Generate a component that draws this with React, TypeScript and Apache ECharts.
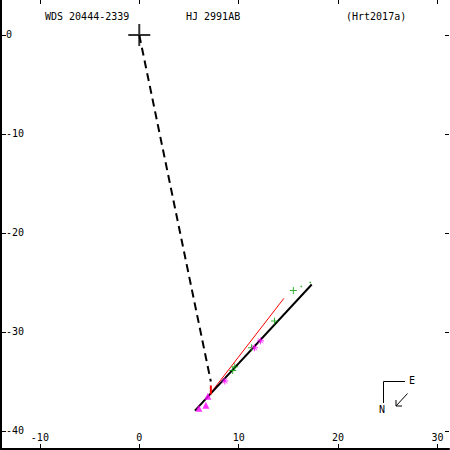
import React, { useEffect, useRef } from "react";
import * as echarts from "echarts";

const xTicks = [-10, 0, 10, 20, 30];
const yTicks = [0, -10, -20, -30, -40];
const primary = [[0, 0]];
const periastronLine = [[0, 0], [7.2, -35.0]];
const orbitLine = [[5.6, -37.95], [17.35, -25.2]];
const redLine = [[7.0, -36.4], [14.55, -26.6]];
const ocSegment = [[7.2, -35.4], [7.2, -36.3]];
const greenPlus = [[15.5, -25.8], [13.6, -28.9], [11.3, -31.6], [9.6, -33.5], [9.4, -33.9]];
const greenDots = [[16.3, -25.4], [17.2, -25.0]];
const magentaStars = [[12.2, -30.9], [11.6, -31.6], [8.6, -34.95]];
const magentaTriangles = [[6.9, -36.5], [6.0, -37.7], [6.7, -37.4]];
const titleLeft = "WDS 20444-2339";
const titleMid = "HJ 2991AB";
const titleRight = "(Hrt2017a)";

const FONT = '"DejaVu Sans Mono", monospace';

export default function App() {
  const ref = useRef<HTMLDivElement>(null);
  useEffect(() => {
    if (!ref.current) return;
    const chart = echarts.init(ref.current, null, { renderer: "svg" });
    const axisCommon = {
      type: "value",
      splitLine: { show: false },
    };
    const option: any = {
      animation: false,
      backgroundColor: "#fff",
      grid: { left: 1, right: 1, top: 0, bottom: 1, containLabel: false, outerBoundsMode: "none" },
      xAxis: [
        {
          ...axisCommon,
          min: -13.91,
          max: 31.16,
          position: "bottom",
          axisLine: { show: true, onZero: false, lineStyle: { color: "#000", width: 2 } },
          axisTick: { show: true, inside: true, length: 5, customValues: xTicks, lineStyle: { color: "#000", width: 1 } },
          axisLabel: { show: true, inside: true, margin: 7, customValues: xTicks, color: "#000", fontFamily: FONT, fontSize: 10 },
        },
        {
          ...axisCommon,
          min: -13.91,
          max: 31.16,
          position: "top",
          axisLine: { show: false, onZero: false },
          axisTick: { show: true, inside: true, length: 4, customValues: xTicks, lineStyle: { color: "#000", width: 1 } },
          axisLabel: { show: false },
        },
      ],
      yAxis: [
        {
          ...axisCommon,
          min: -41.82,
          max: 3.535,
          position: "left",
          axisLine: { show: true, onZero: false, lineStyle: { color: "#000", width: 2 } },
          axisTick: { show: true, inside: true, length: 5, customValues: yTicks, lineStyle: { color: "#000", width: 1 } },
          axisLabel: { show: true, inside: true, margin: 5, customValues: yTicks, color: "#000", fontFamily: FONT, fontSize: 10 },
        },
        {
          ...axisCommon,
          min: -41.82,
          max: 3.535,
          position: "right",
          axisLine: { show: false, onZero: false },
          axisTick: { show: true, inside: true, length: 4, customValues: yTicks, lineStyle: { color: "#000", width: 1 } },
          axisLabel: { show: false },
        },
      ],
      series: [
        {
          type: "line",
          data: periastronLine,
          symbol: "none",
          lineStyle: { color: "#000", width: 2, type: [8, 5] },
          z: 2,
        },
        {
          type: "line",
          data: redLine,
          symbol: "none",
          lineStyle: { color: "#ff0000", width: 1 },
          z: 2,
        },
        {
          type: "line",
          data: orbitLine,
          symbol: "none",
          lineStyle: { color: "#000", width: 2 },
          z: 3,
        },
        {
          type: "line",
          data: ocSegment,
          symbol: "none",
          lineStyle: { color: "#ff0000", width: 2 },
          z: 4,
        },
        {
          type: "scatter",
          data: greenPlus,
          symbol: "path://M0,3H7V4H0ZM3,0H4V7H3Z",
          symbolSize: 7,
          itemStyle: { color: "#00a000" },
          z: 5,
        },
        {
          type: "scatter",
          data: greenDots,
          symbol: "rect",
          symbolSize: 1.5,
          itemStyle: { color: "#00a000" },
          z: 5,
        },
        {
          type: "scatter",
          data: magentaStars,
          symbol: "path://M0,5L10,5M5,0L5,10M1.5,1.5L8.5,8.5M1.5,8.5L8.5,1.5",
          symbolSize: 7,
          itemStyle: { color: "transparent", borderColor: "#ff00ff", borderWidth: 1 },
          z: 5,
        },
        {
          type: "scatter",
          data: magentaTriangles,
          symbol: "triangle",
          symbolSize: 7,
          itemStyle: { color: "#ff00ff" },
          z: 5,
        },
        {
          type: "scatter",
          data: primary,
          symbol: "path://M0,10H22V12H0ZM10,0H12V22H10Z",
          symbolSize: 22,
          itemStyle: { color: "#000" },
          z: 6,
        },
      ],
      graphic: [
        { type: "text", left: 45, top: 11, style: { text: titleLeft, font: `10px ${FONT}`, fill: "#000" } },
        { type: "text", left: 186, top: 11, style: { text: titleMid, font: `10px ${FONT}`, fill: "#000" } },
        { type: "text", left: 346, top: 11, style: { text: titleRight, font: `10px ${FONT}`, fill: "#000" } },
        { type: "polyline", shape: { points: [[405, 381.5], [383.5, 381.5], [383.5, 403]] }, style: { stroke: "#000", lineWidth: 1, fill: "none" } },
        { type: "text", x: 409, y: 375, style: { text: "E", font: `10px ${FONT}`, fill: "#000" } },
        { type: "text", x: 379, y: 404, style: { text: "N", font: `10px ${FONT}`, fill: "#000" } },
        { type: "line", shape: { x1: 407.5, y1: 393.5, x2: 396, y2: 406 }, style: { stroke: "#000", lineWidth: 1 } },
        { type: "polyline", shape: { points: [[396, 400], [396, 406], [402, 406]] }, style: { stroke: "#000", lineWidth: 1, fill: "none" } },
      ],
    };
    chart.setOption(option);
    return () => chart.dispose();
  }, []);
  return (
    <div
      ref={ref}
      style={{ position: "absolute", left: 0, top: 0, width: 450, height: 450 }}
    />
  );
}
